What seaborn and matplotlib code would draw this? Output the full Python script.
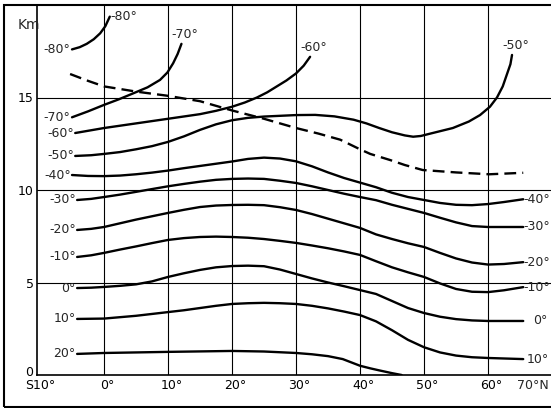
import matplotlib

matplotlib.use("Agg")

import matplotlib.pyplot as plt
import pandas as pd
import seaborn as sns
from matplotlib.patches import Rectangle
from matplotlib.transforms import ScaledTranslation

# isotherms: latitude (deg, negative = south) vs altitude (km)
lat_m80 = [-5.0, -3.8, -2.7, -1.6, -0.6, 0.2, 0.9]
alt_m80 = [17.6, 17.72, 17.9, 18.15, 18.47, 18.85, 19.37]

lat_m70 = [-5.0, -2.5, 0.0, 2.3, 4.6, 6.8, 8.75, 9.9, 10.8, 11.5, 12.1]
alt_m70 = [13.93, 14.25, 14.6, 14.9, 15.23, 15.55, 15.95, 16.35, 16.85, 17.35, 17.9]

lat_m60 = [-4.5, 0, 5, 10, 15, 17.5, 20, 22, 23.9, 25.5, 27, 28.5, 30, 31.2, 32.2]
alt_m60 = [13.08, 13.35, 13.6, 13.85, 14.1, 14.28, 14.5, 14.73, 15.0, 15.28, 15.6, 15.92, 16.3, 16.72, 17.2]

lat_m50 = [-4.5, -2, 0, 2.5, 5, 7.5, 10, 12.5, 15, 17.5, 20, 22.5, 25, 30, 33, 36, 39, 41, 43, 45, 47,
           48.3, 49.5, 51, 54.5, 57, 58.75, 60.3, 61.4, 62.3, 63, 63.5, 63.75]
alt_m50 = [11.84, 11.88, 11.95, 12.05, 12.2, 12.37, 12.6, 12.9, 13.25, 13.55, 13.77, 13.9, 13.97, 14.05,
           14.06, 13.98, 13.8, 13.6, 13.35, 13.12, 12.95, 12.88, 12.92, 13.05, 13.35, 13.7, 14.05, 14.5,
           15.0, 15.6, 16.3, 16.8, 17.3]

lat_m40 = [-5, -2.5, 0, 2.5, 5, 7.5, 10, 12.5, 15, 17.5, 20, 22.5, 25, 27.5, 30, 32.5, 35, 37.5, 40,
           42.5, 45, 47.5, 50, 52.5, 55, 57.5, 60, 62.5, 65.5]
alt_m40 = [10.81, 10.76, 10.75, 10.78, 10.85, 10.94, 11.05, 11.18, 11.3, 11.42, 11.54, 11.68, 11.75, 11.7,
           11.55, 11.28, 10.95, 10.65, 10.4, 10.15, 9.85, 9.62, 9.46, 9.3, 9.2, 9.18, 9.24, 9.35, 9.5]

lat_m30 = [-4.2, -2, 0, 2.5, 5, 7.5, 10, 12.5, 15, 17.5, 20, 22.5, 25, 27.5, 30, 32.5, 35, 37.5, 40,
           42.5, 45, 47.5, 50, 52.5, 55, 57.5, 60, 65.5]
alt_m30 = [9.46, 9.52, 9.62, 9.75, 9.9, 10.05, 10.2, 10.33, 10.45, 10.55, 10.6, 10.62, 10.6, 10.5, 10.38,
           10.2, 10.0, 9.8, 9.62, 9.45, 9.2, 8.98, 8.76, 8.5, 8.25, 8.05, 8.0, 8.0]

lat_m20 = [-4.2, -2, 0, 2.5, 5, 7.5, 10, 12.5, 15, 17.5, 20, 22.5, 25, 27.5, 30, 32.5, 35, 37.5, 40,
           42.5, 45, 47.5, 50, 52.5, 55, 57.5, 60, 62.5, 65.5]
alt_m20 = [7.84, 7.9, 8.0, 8.2, 8.4, 8.58, 8.76, 8.93, 9.08, 9.16, 9.19, 9.2, 9.18, 9.07, 8.92, 8.7, 8.45,
           8.2, 7.95, 7.6, 7.35, 7.12, 6.92, 6.6, 6.3, 6.08, 5.97, 6.0, 6.1]

lat_m10 = [-4.2, -2, 0, 2.5, 5, 7.5, 10, 12.5, 15, 17.5, 20, 22.5, 25, 27.5, 30, 32.5, 35, 37.5, 40,
           42.5, 45, 47.5, 50, 52.5, 55, 57.5, 60, 62.5, 65.5]
alt_m10 = [6.38, 6.47, 6.6, 6.78, 6.95, 7.13, 7.3, 7.4, 7.46, 7.48, 7.46, 7.42, 7.35, 7.25, 7.14, 7.0,
           6.85, 6.68, 6.49, 6.15, 5.82, 5.55, 5.3, 4.95, 4.65, 4.5, 4.48, 4.58, 4.75]

lat_0 = [-4.2, -2, 0, 2.5, 5, 7.5, 10, 12.5, 15, 17.5, 20, 22.5, 25, 27.5, 30, 32.5, 35, 37.5, 40, 42.5,
         45, 47.5, 50, 52.5, 55, 57.5, 60, 65.5]
alt_0 = [4.7, 4.72, 4.76, 4.82, 4.9, 5.06, 5.3, 5.5, 5.68, 5.82, 5.89, 5.91, 5.88, 5.7, 5.46, 5.22, 5.0,
         4.8, 4.59, 4.38, 4.0, 3.62, 3.35, 3.15, 3.02, 2.95, 2.92, 2.92]

lat_10 = [-4.2, 0, 5, 10, 12.5, 15, 17.5, 20, 22.5, 25, 27.5, 30, 32.5, 35, 37.5, 40, 42.5, 45, 47.5,
          50, 52.5, 55, 57.5, 60, 65.5]
alt_10 = [3.03, 3.05, 3.2, 3.4, 3.5, 3.62, 3.74, 3.84, 3.88, 3.9, 3.88, 3.84, 3.74, 3.6, 3.43, 3.24, 2.9,
          2.42, 1.9, 1.5, 1.22, 1.05, 0.96, 0.92, 0.86]

lat_20 = [-4.2, 0, 10, 20, 25, 30, 32.5, 35, 37.3, 38.5, 40, 41.6, 43, 45, 46.5]
alt_20 = [1.14, 1.19, 1.25, 1.30, 1.27, 1.19, 1.12, 1.02, 0.86, 0.7, 0.5, 0.36, 0.25, 0.1, 0.0]

# tropopause (dashed)
lat_trop = [-5.3, -2.5, 0, 5, 9.8, 15, 20, 25, 30, 33.5, 36.9, 40, 41.6, 44.7, 47, 49.8, 55, 60.2, 65.5]
alt_trop = [16.27, 15.9, 15.6, 15.32, 15.1, 14.8, 14.3, 13.85, 13.35, 13.05, 12.72, 12.2, 11.95, 11.62,
            11.35, 11.08, 10.95, 10.85, 10.93]

iso_names = ["-80°", "-70°", "-60°", "-50°", "-40°", "-30°", "-20°", "-10°", "0°", "10°", "20°"]
iso_lats = [lat_m80, lat_m70, lat_m60, lat_m50, lat_m40, lat_m30, lat_m20, lat_m10, lat_0, lat_10, lat_20]
iso_alts = [alt_m80, alt_m70, alt_m60, alt_m50, alt_m40, alt_m30, alt_m20, alt_m10, alt_0, alt_10, alt_20]

right_labelled = ["-40°", "-30°", "-20°", "-10°", "0°", "10°"]
top_labelled = ["-80°", "-70°", "-60°", "-50°"]

x_ticks = [-10, 0, 10, 20, 30, 40, 50, 60]
x_tick_labels = ["S10°", "0°", "10°", "20°", "30°", "40°", "50°", "60°"]
y_ticks = [0, 5, 10, 15]
grid_lats = [0, 10, 20, 30, 40, 50, 60]
grid_alts = [5, 10, 15]

sns.set_theme(style="white")
plt.rcParams["font.family"] = ["DejaVu Sans"]

frame = pd.concat(
    [pd.DataFrame({"lat": la, "alt": al, "iso": name}) for name, la, al in zip(iso_names, iso_lats, iso_alts)],
    ignore_index=True,
)

fig = plt.figure(figsize=(5.51, 4.08), dpi=100)
ax = fig.add_axes([37 / 551, 1 - 375 / 408, 1 - 37 / 551, 370 / 408])

for g in grid_lats:
    ax.axvline(g, color="black", lw=0.8, zorder=1)
for g in grid_alts:
    ax.axhline(g, color="black", lw=0.8, zorder=1)

sns.lineplot(data=frame, x="lat", y="alt", units="iso", estimator=None, sort=False,
             color="black", lw=1.7, ax=ax, zorder=3, solid_joinstyle="round")
sns.lineplot(x=lat_trop, y=alt_trop, sort=False, color="black", lw=1.7, ax=ax, zorder=3)
ax.lines[-1].set_dashes((5, 2.6))

fs = 9
right_gap = {"0°": 1.6, "10°": 0.6}
for name, la, al in zip(iso_names, iso_lats, iso_alts):
    ax.text(la[0] - 0.2, al[0], name, ha="right", va="center", fontsize=fs)
    if name in right_labelled:
        ax.text(la[-1] + right_gap.get(name, 0.1), al[-1], name, ha="left", va="center", fontsize=fs)
    if name in top_labelled:
        if name == "-80°":
            ax.text(la[-1] + 0.1, al[-1], name, ha="left", va="center", fontsize=fs)
        else:
            ax.text(la[-1] + 0.6, al[-1] + 0.15, name, ha="center", va="bottom", fontsize=fs)

ax.set_xlim(-10.47, 69.84)
ax.set_ylim(0, 20)
ax.set_xticks(x_ticks)
ax.set_xticklabels(x_tick_labels, fontsize=fs)
ax.set_yticks(y_ticks)
ax.set_yticklabels([str(v) for v in y_ticks], fontsize=fs)
ax.tick_params(axis="both", length=0, colors="black")
ax.tick_params(axis="x", pad=3)
ax.tick_params(axis="y", pad=2.5)
for lbl in ax.get_xticklabels()[1:]:
    lbl.set_transform(lbl.get_transform() + ScaledTranslation(2.5 / 72, 0, fig.dpi_scale_trans))
zero_lbl = ax.get_yticklabels()[0]
zero_lbl.set_transform(zero_lbl.get_transform() + ScaledTranslation(0, 3 / 72, fig.dpi_scale_trans))
ax.text(67.0, 0, "70°N", ha="center", va="top", fontsize=fs,
        transform=ax.get_xaxis_transform() + ScaledTranslation(0, -3 / 72, fig.dpi_scale_trans))
ax.set_xlabel("")
ax.set_ylabel("")

for side in ["top", "right"]:
    ax.spines[side].set_visible(False)
for side in ["left", "bottom"]:
    ax.spines[side].set_color("black")
    ax.spines[side].set_linewidth(1.2)

fig.text(29 / 551, 1 - 25 / 408, "Km", ha="center", va="center", fontsize=fs + 1)
fig.add_artist(Rectangle((4 / 551, 1.3 / 408), 1.2, 1 - 6.6 / 408, transform=fig.transFigure,
                         fill=False, edgecolor="black", lw=1.5, clip_on=False))

fig.savefig("out.png", dpi=100)
